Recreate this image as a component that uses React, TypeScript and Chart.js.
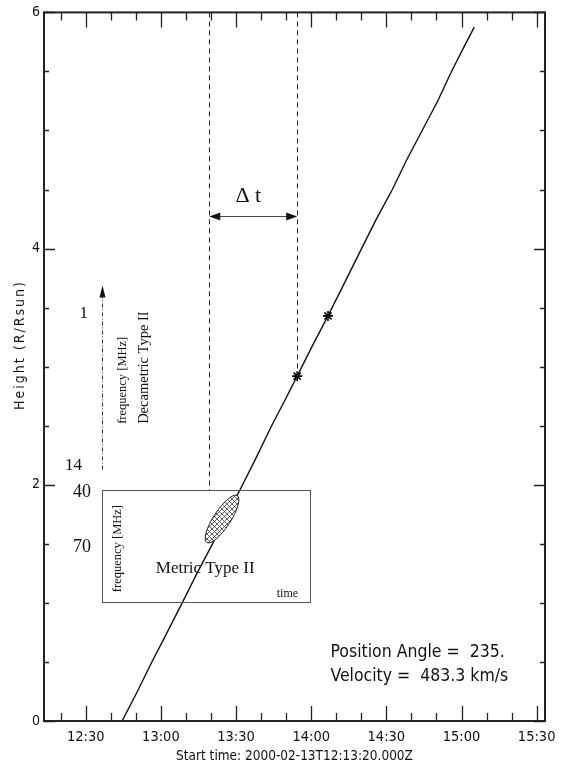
import React, { useEffect, useRef } from "react";
import { Chart, registerables } from "chart.js";
Chart.register(...registerables);

// Time axis in minutes after 12:00 UT; height in solar radii
const xMin = 13.333; // 12:13:20 start time
const xMax = 213.333;
const xTickValues = [30, 60, 90, 120, 150, 180, 210];
const xTickLabels = ["12:30", "13:00", "13:30", "14:00", "14:30", "15:00", "15:30"];
const xMinorValues = [20, 30, 40, 50, 60, 70, 80, 90, 100, 110, 120, 130, 140, 150, 160, 170, 180, 190, 200, 210];
const yTickValues = [0, 2, 4, 6];
const yTickLabels = ["0", "2", "4", "6"];
const yMinorValues = [0, 0.5, 1, 1.5, 2, 2.5, 3, 3.5, 4, 4.5, 5, 5.5, 6];

// CME height-time track
const trackTimes = [44.5, 50.6, 56.4, 62.5, 68.5, 74.4, 80.6, 86.3, 91.4, 97.8, 104.2, 109.6, 114.4, 120.3, 126.7, 132.6, 140.1, 146.0, 152.4, 158.1, 164.3, 170.5, 176.0, 180.8, 185.1];
const trackHeights = [0, 0.25, 0.5, 0.75, 1.0, 1.25, 1.5, 1.75, 1.95, 2.22, 2.5, 2.72, 2.92, 3.17, 3.43, 3.68, 4.0, 4.25, 4.5, 4.75, 5.0, 5.25, 5.5, 5.7, 5.875];

// measured points (asterisks)
const starTimes = [114.4, 126.7];
const starHeights = [2.92, 3.43];

// annotation anchors (data units)
const dashTimes = [79.3, 114.4];
const dashBottoms = [1.953, 2.92];
const deltaArrowHeight = 4.279;
const metricBox = { t0: 36.4, t1: 119.7, h0: 1.01, h1: 1.953 };
const burstCenter = { t: 84.4, h: 1.71 };
const decaArrow = { t: 36.65, h0: 2.13, h1: 3.687 };

const X_TITLE = "Start time: 2000-02-13T12:13:20.000Z";
const Y_TITLE = "Height (R/Rsun)";
const INFO_LINES = ["Position Angle =  235.", "Velocity =  483.3 km/s"];

const SANS = "'Liberation Sans Narrow', 'DejaVu Sans Condensed', 'Liberation Sans', sans-serif";
const SERIF = "'Liberation Serif', 'DejaVu Serif', serif";

function rotText(ctx: CanvasRenderingContext2D, text: string, x: number, y: number, font: string, align: CanvasTextAlign) {
  ctx.save();
  ctx.translate(x, y);
  ctx.rotate(-Math.PI / 2);
  ctx.font = font;
  ctx.textAlign = align;
  ctx.textBaseline = "middle";
  ctx.fillText(text, 0, 0);
  ctx.restore();
}

function arrowHead(ctx: CanvasRenderingContext2D, tx: number, ty: number, dx: number, dy: number, len: number, half: number) {
  const n = Math.hypot(dx, dy);
  const ux = dx / n, uy = dy / n;
  const bx = tx - ux * len, by = ty - uy * len;
  ctx.beginPath();
  ctx.moveTo(tx, ty);
  ctx.lineTo(bx - uy * half, by + ux * half);
  ctx.lineTo(bx + uy * half, by - ux * half);
  ctx.closePath();
  ctx.fill();
}

const annotationPlugin = {
  id: "annot",
  afterDatasetsDraw(chart: any) {
    const ctx: CanvasRenderingContext2D = chart.ctx;
    const xs = chart.scales.x, ys = chart.scales.y;
    const px = (t: number) => xs.getPixelForValue(t);
    const py = (h: number) => ys.getPixelForValue(h);
    const a = chart.chartArea;
    ctx.save();
    ctx.fillStyle = "#111";
    ctx.strokeStyle = "#111";

    // dashed vertical lines
    ctx.lineWidth = 1;
    ctx.setLineDash([5, 4]);
    ctx.strokeStyle = "#222";
    dashTimes.forEach((t, i) => {
      ctx.beginPath();
      ctx.moveTo(Math.round(px(t)) + 0.5, a.top);
      ctx.lineTo(Math.round(px(t)) + 0.5, py(dashBottoms[i]));
      ctx.stroke();
    });
    ctx.setLineDash([]);

    // delta t double arrow
    const ay = Math.round(py(deltaArrowHeight)) + 0.5;
    const ax0 = px(dashTimes[0]), ax1 = px(dashTimes[1]);
    ctx.strokeStyle = "#444";
    ctx.lineWidth = 1;
    ctx.beginPath();
    ctx.moveTo(ax0 + 6, ay);
    ctx.lineTo(ax1 - 6, ay);
    ctx.stroke();
    ctx.fillStyle = "#111";
    arrowHead(ctx, ax0, ay, -1, 0, 11, 4);
    arrowHead(ctx, ax1, ay, 1, 0, 11, 4);
    ctx.font = `22px ${SERIF}`;
    ctx.textAlign = "center";
    ctx.textBaseline = "middle";
    ctx.fillText("\u0394 t", px(94.9), py(4.443));

    // Decametric arrow (dash-dot)
    const dx = Math.round(px(decaArrow.t)) + 0.5;
    ctx.strokeStyle = "#333";
    ctx.lineWidth = 1;
    ctx.setLineDash([4, 2, 1, 2]);
    ctx.beginPath();
    ctx.moveTo(dx, py(decaArrow.h0));
    ctx.lineTo(dx, py(decaArrow.h1) + 10);
    ctx.stroke();
    ctx.setLineDash([]);
    arrowHead(ctx, dx, py(decaArrow.h1), 0, -1, 12, 3);

    ctx.fillStyle = "#111";
    ctx.font = `17px ${SERIF}`;
    ctx.textAlign = "center";
    ctx.textBaseline = "middle";
    ctx.fillText("1", px(29.2), py(3.45));
    ctx.fillText("14", px(25.1), py(2.163));
    ctx.font = `18px ${SERIF}`;
    ctx.fillText("40", px(28.5), py(1.936));
    ctx.fillText("70", px(28.5), py(1.473));
    rotText(ctx, "Decametric Type II", px(53.3), py(2.516), `14.5px ${SERIF}`, "left");
    rotText(ctx, "frequency [MHz]", px(44.9), py(2.516), `12.5px ${SERIF}`, "left");

    // Metric type II box
    ctx.strokeStyle = "#555";
    ctx.lineWidth = 1;
    const bx0 = Math.round(px(metricBox.t0)) + 0.5, bx1 = Math.round(px(metricBox.t1)) + 0.5;
    const by0 = Math.round(py(metricBox.h1)) + 0.5, by1 = Math.round(py(metricBox.h0)) + 0.5;
    ctx.strokeRect(bx0, by0, bx1 - bx0, by1 - by0);
    rotText(ctx, "frequency [MHz]", px(42.9), py(1.46), `12.5px ${SERIF}`, "center");
    ctx.font = `17px ${SERIF}`;
    ctx.textAlign = "center";
    ctx.fillText("Metric Type II", px(77.7), py(1.288));
    ctx.font = `12px ${SERIF}`;
    ctx.fillText("time", px(110.5), py(1.077));

    // hatched burst ellipse
    const ecx = px(burstCenter.t), ecy = py(burstCenter.h);
    const rot = Math.atan2(-46, 30);
    ctx.save();
    ctx.beginPath();
    ctx.ellipse(ecx, ecy, 28, 8.5, rot, 0, Math.PI * 2);
    ctx.fillStyle = "#fff";
    ctx.fill();
    ctx.clip();
    ctx.strokeStyle = "#333";
    ctx.lineWidth = 0.8;
    for (let k = -60; k <= 60; k += 5) {
      ctx.beginPath();
      ctx.moveTo(ecx + k - 40, ecy - 40);
      ctx.lineTo(ecx + k + 40, ecy + 40);
      ctx.stroke();
      ctx.beginPath();
      ctx.moveTo(ecx + k - 40, ecy + 40);
      ctx.lineTo(ecx + k + 40, ecy - 40);
      ctx.stroke();
    }
    ctx.restore();
    ctx.beginPath();
    ctx.ellipse(ecx, ecy, 28, 8.5, rot, 0, Math.PI * 2);
    ctx.strokeStyle = "#222";
    ctx.lineWidth = 1;
    ctx.stroke();

    // info text
    ctx.fillStyle = "#111";
    ctx.font = `17.5px ${SANS}`;
    ctx.textAlign = "left";
    ctx.textBaseline = "middle";
    ctx.fillText(INFO_LINES[0], px(127.7), py(0.581));
    ctx.fillText(INFO_LINES[1], px(127.7), py(0.379));

    // frame
    ctx.strokeStyle = "#222";
    ctx.lineWidth = 2;
    ctx.strokeRect(a.left, a.top, a.right - a.left, a.bottom - a.top);

    // inward ticks
    ctx.lineWidth = 1.3;
    xMinorValues.forEach((t) => {
      const x = Math.round(px(t)) + 0.5;
      const len = xTickValues.includes(t) ? 15 : 8;
      ctx.beginPath();
      ctx.moveTo(x, a.bottom);
      ctx.lineTo(x, a.bottom - len);
      ctx.moveTo(x, a.top);
      ctx.lineTo(x, a.top + len);
      ctx.stroke();
    });
    yMinorValues.forEach((h) => {
      const y = Math.round(py(h)) + 0.5;
      const len = yTickValues.includes(h) ? 11 : 5;
      ctx.beginPath();
      ctx.moveTo(a.left, y);
      ctx.lineTo(a.left + len, y);
      ctx.moveTo(a.right, y);
      ctx.lineTo(a.right - len, y);
      ctx.stroke();
    });

    // y title
    ctx.fillStyle = "#111";
    ctx.save();
    (ctx as any).letterSpacing = "2px";
    rotText(ctx, Y_TITLE, 20, 345, `14px ${SANS}`, "center");
    ctx.restore();
    ctx.restore();
  },
};

export default function App() {
  const ref = useRef<HTMLCanvasElement | null>(null);
  useEffect(() => {
    if (!ref.current) return;
    const chart = new Chart(ref.current, {
      type: "scatter",
      data: {
        datasets: [
          {
            data: trackTimes.map((t, i) => ({ x: t, y: trackHeights[i] })),
            showLine: true,
            borderColor: "#111",
            borderWidth: 1.4,
            pointRadius: 0,
            tension: 0,
          },
          {
            data: starTimes.map((t, i) => ({ x: t, y: starHeights[i] })),
            showLine: false,
            pointStyle: "star",
            pointRadius: 5,
            borderColor: "#000",
            borderWidth: 1.6,
            backgroundColor: "#000",
          },
        ],
      },
      options: {
        responsive: false,
        animation: false,
        layout: { padding: { top: 8, right: 20, left: 0, bottom: 0 } },
        plugins: { legend: { display: false }, tooltip: { enabled: false } },
        scales: {
          x: {
            type: "linear",
            min: xMin,
            max: xMax,
            afterBuildTicks: (s: any) => {
              s.ticks = xTickValues.map((v) => ({ value: v }));
            },
            afterFit: (s: any) => {
              s.height = 45;
            },
            grid: { display: false, drawTicks: false },
            border: { display: false },
            ticks: {
              autoSkip: false,
              maxRotation: 0,
              padding: 8,
              color: "#111",
              font: { family: SANS, size: 14.5 },
              callback: (v: any) => {
                const i = xTickValues.indexOf(Number(v));
                return i >= 0 ? xTickLabels[i] : "";
              },
            },
            title: {
              display: true,
              text: X_TITLE,
              color: "#111",
              font: { family: SANS, size: 13.5 },
              padding: { top: 0, bottom: 1 },
            },
          },
          y: {
            min: 0,
            max: 6,
            afterBuildTicks: (s: any) => {
              s.ticks = yTickValues.map((v) => ({ value: v }));
            },
            afterFit: (s: any) => {
              s.width = 44;
            },
            grid: { display: false, drawTicks: false },
            border: { display: false },
            ticks: {
              autoSkip: false,
              padding: 4,
              color: "#111",
              font: { family: SANS, size: 14 },
              callback: (v: any) => {
                const i = yTickValues.indexOf(Number(v));
                return i >= 0 ? yTickLabels[i] : "";
              },
            },
          },
        },
      },
      plugins: [annotationPlugin],
    } as any);
    return () => chart.destroy();
  }, []);
  return (
    <div style={{ position: "fixed", left: 0, top: 0, width: 565, height: 766, background: "#fff" }}>
      <canvas ref={ref} width={565} height={766} style={{ display: "block" }} />
    </div>
  );
}
